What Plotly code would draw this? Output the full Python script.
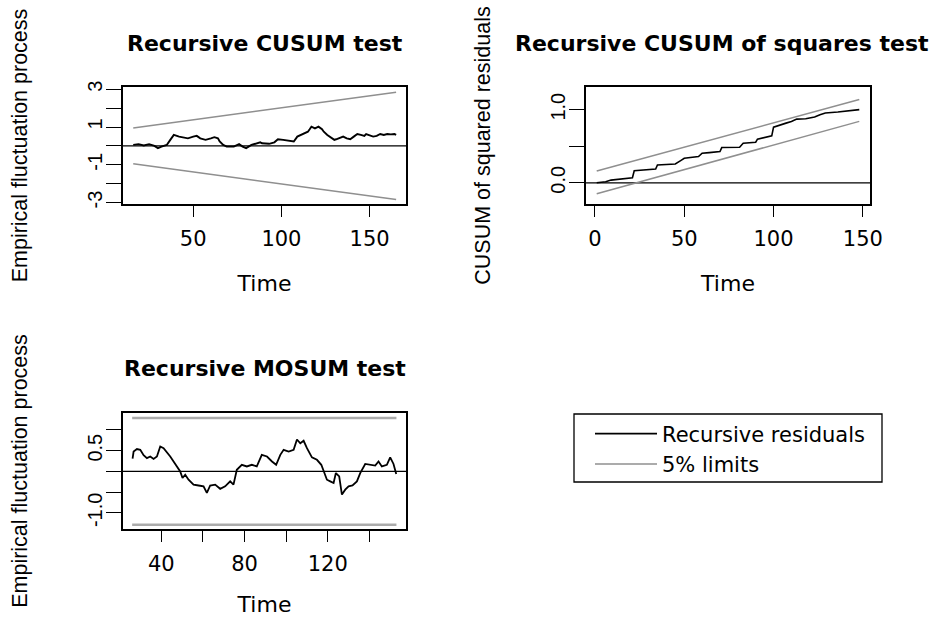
import plotly.graph_objects as go

W, H = 933, 617

# ---- Recursive CUSUM test ----
cusum_time = [16, 19, 22, 25, 28, 30, 32, 35, 37, 39, 42, 45, 47, 50, 52, 54, 57, 60, 62, 64,
              65, 67, 69, 73, 76, 78, 80, 83, 86, 88, 89, 93, 96, 98, 101, 104, 107, 109, 111, 113,
              115, 116, 117, 119, 121, 123, 124, 126, 128, 130, 131, 133, 135, 137, 139, 141, 143, 145, 147, 148,
              150, 152, 154, 156, 158, 160, 162, 164, 165]
cusum_value = [0.05, 0.09, 0.02, 0.09, 0.0, -0.12, -0.04, 0.05, 0.32, 0.58, 0.49, 0.46, 0.40, 0.49, 0.53, 0.40, 0.32, 0.40, 0.46, 0.40,
               0.23, 0.05, -0.04, -0.04, 0.09, -0.04, -0.12, 0.05, 0.14, 0.19, 0.14, 0.11, 0.19, 0.35, 0.32, 0.28, 0.23, 0.49, 0.58, 0.63,
               0.75, 0.88, 1.02, 0.93, 1.02, 0.88, 0.75, 0.58, 0.46, 0.32, 0.35, 0.40, 0.49, 0.40, 0.35, 0.49, 0.63, 0.58, 0.53, 0.63,
               0.58, 0.49, 0.53, 0.63, 0.58, 0.63, 0.61, 0.63, 0.58]
cusum_bound_time = [16, 165]
cusum_upper = [0.95, 2.84]
cusum_lower = [-0.95, -2.84]

# ---- Recursive CUSUM of squares test ----
sq_time = [1, 6, 9, 13, 19, 21, 22, 30, 34, 35, 45, 48, 50, 58, 60, 64, 70, 71, 81, 83,
           90, 91, 96, 99, 100, 105, 107, 110, 113, 118, 123, 126, 129, 136, 144, 148]
sq_value = [0.0, 0.014, 0.037, 0.05, 0.06, 0.069, 0.165, 0.174, 0.188, 0.243, 0.257, 0.303, 0.335, 0.358, 0.404, 0.413, 0.427, 0.482, 0.486, 0.541,
            0.555, 0.596, 0.624, 0.642, 0.761, 0.793, 0.816, 0.839, 0.871, 0.876, 0.899, 0.931, 0.954, 0.968, 0.991, 1.0]
sq_bound_time = [1, 148]
sq_upper = [0.16, 1.14]
sq_lower = [-0.15, 0.84]

# ---- Recursive MOSUM test ----
mosum_time = [26.2, 26.7, 28.3, 29.9, 31.5, 33.1, 34.7, 36.3, 37.9, 39.5, 41.1, 42.7, 44.3, 45.9, 47.5, 49.1, 50.2, 51.5, 53.1, 55.5,
              57.9, 60.3, 61.9, 63.5, 65.9, 68.3, 70.7, 73.1, 74.7, 76.3, 78.7, 81.1, 83.5, 85.9, 88.3,
              90.8, 93.2, 95.2, 97.2, 98.8, 101.2, 103.6, 105.2, 106.8, 108.4, 110.0, 112.4, 114.8, 116.9, 118.5,
              119.6, 121.2, 122.8, 123.9, 125.5, 126.8, 128.4, 130.0, 131.9, 134.0, 135.6, 138.0, 140.4, 142.8, 144.4,
              146.0, 148.4, 150.0, 151.6, 152.9]
mosum_value = [0.31, 0.48, 0.54, 0.52, 0.39, 0.32, 0.36, 0.30, 0.36, 0.60, 0.56, 0.47, 0.36, 0.24, 0.12, 0.0, -0.16, -0.08, -0.20, -0.32,
               -0.34, -0.36, -0.52, -0.34, -0.32, -0.42, -0.36, -0.24, -0.32, 0.04, 0.16, 0.12, 0.16, 0.12, 0.40,
               0.36, 0.24, 0.16, 0.40, 0.52, 0.48, 0.52, 0.77, 0.68, 0.74, 0.56, 0.34, 0.28, 0.16, -0.06,
               -0.20, -0.24, -0.28, -0.04, -0.12, -0.56, -0.44, -0.36, -0.34, -0.24, -0.04, 0.18, 0.16, 0.14, 0.24,
               0.12, 0.16, 0.34, 0.18, -0.06]
mosum_bound_time = [26, 153]
mosum_upper = [1.29, 1.29]
mosum_lower = [-1.29, -1.29]

# ---- tick labels (R skips labels that would overlap) ----
x1_ticks, x1_text = [50, 100, 150], ["50", "100", "150"]
y1_ticks, y1_text = [-3, -2, -1, 0, 1, 2, 3], ["-3", "", "-1", "", "1", "", "3"]
x2_ticks, x2_text = [0, 50, 100, 150], ["0", "50", "100", "150"]
y2_ticks, y2_text = [0, 0.5, 1.0], ["0.0", "", "1.0"]
x3_ticks, x3_text = [40, 60, 80, 100, 120, 140], ["40", "", "80", "", "120", ""]
y3_ticks, y3_text = [-1.0, -0.5, 0.0, 0.5, 1.0], ["-1.0", "", "", "0.5", ""]

PROC = "black"
LIMIT = "#8f8f8f"
MOSUM_LIMIT = "#ababab"


def px_x(p):
    return p / W


def px_y(p):
    return 1 - p / H


fig = go.Figure()

fig.add_trace(go.Scatter(x=cusum_bound_time, y=cusum_upper, mode="lines", xaxis="x", yaxis="y",
                         line=dict(color=LIMIT, width=1.5), name="5% limits", showlegend=True,
                         legendrank=2))
fig.add_trace(go.Scatter(x=cusum_bound_time, y=cusum_lower, mode="lines", xaxis="x", yaxis="y",
                         line=dict(color=LIMIT, width=1.5), showlegend=False))
fig.add_trace(go.Scatter(x=cusum_time, y=cusum_value, mode="lines", xaxis="x", yaxis="y",
                         line=dict(color=PROC, width=1.9), name="Recursive residuals", showlegend=True,
                         legendrank=1))

fig.add_trace(go.Scatter(x=sq_bound_time, y=sq_upper, mode="lines", xaxis="x2", yaxis="y2",
                         line=dict(color=LIMIT, width=1.5), showlegend=False))
fig.add_trace(go.Scatter(x=sq_bound_time, y=sq_lower, mode="lines", xaxis="x2", yaxis="y2",
                         line=dict(color=LIMIT, width=1.5), showlegend=False))
fig.add_trace(go.Scatter(x=sq_time, y=sq_value, mode="lines", xaxis="x2", yaxis="y2",
                         line=dict(color=PROC, width=1.6), showlegend=False))

fig.add_trace(go.Scatter(x=mosum_bound_time, y=mosum_upper, mode="lines", xaxis="x3", yaxis="y3",
                         line=dict(color=MOSUM_LIMIT, width=2.5), showlegend=False))
fig.add_trace(go.Scatter(x=mosum_bound_time, y=mosum_lower, mode="lines", xaxis="x3", yaxis="y3",
                         line=dict(color=MOSUM_LIMIT, width=2.5), showlegend=False))
fig.add_trace(go.Scatter(x=mosum_time, y=mosum_value, mode="lines", xaxis="x3", yaxis="y3",
                         line=dict(color=PROC, width=1.8), showlegend=False))

# zero reference lines across each panel
for xr, yr in [("x", "y"), ("x2", "y2"), ("x3", "y3")]:
    fig.add_shape(type="line", xref=f"{xr} domain", yref=yr, x0=0, x1=1, y0=0, y1=0,
                  line=dict(color="black", width=1.2), layer="below")

H_FONT = "DejaVu Sans"
V_FONT = "Liberation Sans"


def xaxis_style(dom, rng, ticks, text, anchor):
    return dict(domain=dom, range=rng, anchor=anchor, tickvals=ticks, ticktext=text,
                showline=True, mirror=True, linecolor="black", linewidth=1.5,
                ticks="outside", ticklen=11, tickwidth=1.3, tickcolor="black",
                showgrid=False, zeroline=False, ticklabelstandoff=4, automargin=False,
                tickfont=dict(family=H_FONT, size=21, color="black"),
                title=dict(text="Time", font=dict(family=H_FONT, size=22, color="black"), standoff=26))


def yaxis_style(dom, rng, ticks, text, anchor, title):
    return dict(domain=dom, range=rng, anchor=anchor, tickvals=ticks, ticktext=text,
                showline=True, mirror=True, linecolor="black", linewidth=1.5,
                ticks="outside", ticklen=15, tickwidth=1.3, tickcolor="black",
                showgrid=False, zeroline=False, tickangle=-90, ticklabelstandoff=-4, automargin=False,
                tickfont=dict(family=V_FONT, size=20, color="black"),
                title=dict(text=title, font=dict(family=V_FONT, size=21.5, color="black"), standoff=51))


top_dom = [px_y(204), px_y(87)]
bot_dom = [px_y(529), px_y(413)]
left_dom = [px_x(123), px_x(406)]
right_dom = [px_x(586), px_x(870)]

fig.update_layout(
    width=W, height=H,
    margin=dict(l=0, r=0, t=0, b=0, pad=0),
    paper_bgcolor="white", plot_bgcolor="white",
    xaxis=xaxis_style(left_dom, [10.2, 170.6], x1_ticks, x1_text, "y"),
    yaxis=yaxis_style(top_dom, [-3.08, 3.12], y1_ticks, y1_text, "x", "Empirical fluctuation process"),
    xaxis2=xaxis_style(right_dom, [-5.0, 154.0], x2_ticks, x2_text, "y2"),
    yaxis2=yaxis_style(top_dom, [-0.29, 1.31], y2_ticks, y2_text, "x2", "CUSUM of squared residuals"),
    xaxis3=xaxis_style(left_dom, [21.6, 157.6], x3_ticks, x3_text, "y3"),
    yaxis3=yaxis_style(bot_dom, [-1.39, 1.41], y3_ticks, y3_text, "x3", "Empirical fluctuation process"),
    showlegend=True,
    legend=dict(x=px_x(590), y=px_y(449), xanchor="left", yanchor="middle",
                bgcolor="rgba(0,0,0,0)", borderwidth=0, itemwidth=62,
                font=dict(family=H_FONT, size=21, color="black"), tracegroupgap=0),
)

# legend frame
fig.add_shape(type="rect", xref="paper", yref="paper",
              x0=px_x(574), x1=px_x(882), y0=px_y(482), y1=px_y(414),
              line=dict(color="black", width=1.3), fillcolor="rgba(0,0,0,0)")

title_font = dict(family=H_FONT, size=22, color="black", weight="bold")
fig.add_annotation(text="Recursive CUSUM test", xref="paper", yref="paper",
                   x=px_x(264.5), y=px_y(43), xanchor="center", yanchor="middle",
                   showarrow=False, font=title_font)
fig.add_annotation(text="Recursive CUSUM of squares test", xref="paper", yref="paper",
                   x=px_x(931), y=px_y(43), xanchor="right", yanchor="middle",
                   showarrow=False, font=title_font)
fig.add_annotation(text="Recursive MOSUM test", xref="paper", yref="paper",
                   x=px_x(264.5), y=px_y(368), xanchor="center", yanchor="middle",
                   showarrow=False, font=title_font)

fig.write_html("out.html")
